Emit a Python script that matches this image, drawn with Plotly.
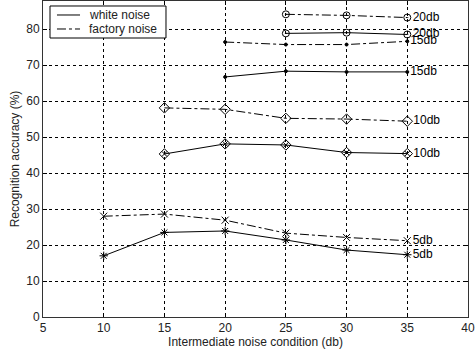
import plotly.graph_objects as go

x5 = [10, 15, 20, 25, 30, 35]
x10 = [15, 20, 25, 30, 35]
x15 = [20, 25, 30, 35]
x20 = [25, 30, 35]

white_5 = [17.0, 23.5, 23.9, 21.4, 18.6, 17.3]
factory_5 = [28.0, 28.6, 26.9, 23.3, 22.1, 21.2]
white_10 = [45.3, 48.1, 47.8, 45.7, 45.4]
factory_10 = [58.1, 57.7, 55.2, 55.0, 54.4]
white_15 = [66.7, 68.3, 68.1, 68.1]
factory_15 = [76.4, 75.7, 75.7, 76.6]
white_20 = [78.8, 79.0, 78.5]
factory_20 = [84.1, 83.8, 83.2]

labels = ["5db", "10db", "15db", "20db"]
legend_names = ["white noise", "factory noise"]

series = [
    (x5, white_5, "solid", "asterisk-open", 7, labels[0]),
    (x5, factory_5, "dashdot", "x-thin-open", 7, labels[0]),
    (x10, white_10, "solid", "diamond-x-open", 8, labels[1]),
    (x10, factory_10, "dashdot", "diamond-open", 8, labels[1]),
    (x15, white_15, "solid", "circle", 3, labels[2]),
    (x15, factory_15, "dashdot", "circle", 3, labels[2]),
    (x20, white_20, "solid", "circle-open-dot", 7, labels[3]),
    (x20, factory_20, "dashdot", "circle-open-dot", 7, labels[3]),
]

fig = go.Figure()
for xs, ys, dash, sym, sz, lab in series:
    fig.add_trace(go.Scatter(
        x=xs, y=ys, mode="lines+markers+text",
        line=dict(color="black", width=1, dash=dash),
        marker=dict(symbol=sym, size=sz, color="black", line=dict(color="black", width=1)),
        text=[""] * (len(xs) - 1) + [lab],
        textposition="middle right",
        textfont=dict(family="Liberation Sans", size=12, color="black"),
        showlegend=False, cliponaxis=False, hoverinfo="skip",
    ))

# compact MATLAB-style legend drawn in paper coordinates
fig.add_shape(type="rect", xref="paper", yref="paper", x0=0.0165, x1=0.2894,
              y0=0.8829, y1=0.9842, fillcolor="white",
              line=dict(color="black", width=1), layer="above")
for yy, dash, name in [(0.9557, "solid", legend_names[0]), (0.9114, "dashdot", legend_names[1])]:
    fig.add_shape(type="line", xref="paper", yref="paper", x0=0.0329, x1=0.0871,
                  y0=yy, y1=yy, line=dict(color="black", width=1, dash=dash), layer="above")
    fig.add_annotation(xref="paper", yref="paper", x=0.1035, y=yy, text=name,
                       showarrow=False, xanchor="left", yanchor="middle",
                       font=dict(family="Liberation Sans", size=12, color="#222"))

axis_common = dict(
    showgrid=True, gridcolor="black", griddash="dot", gridwidth=1,
    showline=True, linecolor="#333", linewidth=1, mirror="ticks",
    ticks="inside", ticklen=4, tickcolor="black",
    tickfont=dict(family="Liberation Sans", size=12, color="#222"),
    zeroline=False, automargin=False,
)

fig.update_layout(
    width=475, height=356,
    margin=dict(l=43, r=7, t=1, b=39, autoexpand=False),
    paper_bgcolor="white", plot_bgcolor="white",
    font=dict(family="Liberation Sans", size=12, color="#222"),
    showlegend=False,
    xaxis=dict(range=[5, 40], dtick=5,
               title=dict(text="Intermediate noise condition (db)", standoff=0,
                          font=dict(size=12)), **axis_common),
    yaxis=dict(range=[0, 87.8], dtick=10,
               title=dict(text="Recognition accuracy (%)", standoff=4,
                          font=dict(size=12)), **axis_common),
)

fig.write_html("out.html", config={"displayModeBar": False},
               post_script="document.body.style.margin='0';document.body.style.overflow='hidden';")
